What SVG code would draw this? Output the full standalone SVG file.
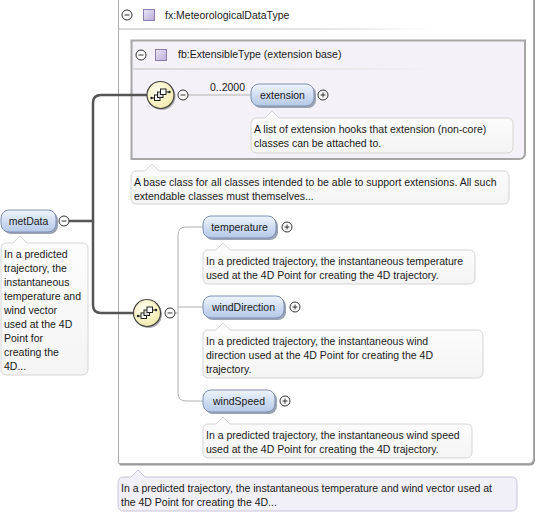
<svg xmlns="http://www.w3.org/2000/svg" width="536" height="514" viewBox="0 0 536 514">
<style>
text{font-family:"Liberation Sans",Arial,sans-serif;font-size:10.5px;fill:#1a1a1a}
.ann{fill:url(#annG);stroke:#d4d4d4;stroke-width:1}
.annB{fill:#f1eff7;stroke:#c9c3d9;stroke-width:1}
.node{fill:url(#nodeG);stroke:#7f90b0;stroke-width:1}
.nsh{fill:#9aa3b3}
.thick{fill:none;stroke:#555;stroke-width:2.5}
.thin{fill:none;stroke:#b0b0b0;stroke-width:1}
.pm{fill:#fff;stroke:#333;stroke-width:1}
.pml{stroke:#333;stroke-width:1}
.sq{fill:url(#sqG);stroke:#8a7cb0;stroke-width:1}
</style>
<defs>
<linearGradient id="nodeG" x1="0" y1="0" x2="0" y2="1"><stop offset="0" stop-color="#eef4fc"/><stop offset="1" stop-color="#b4c8e8"/></linearGradient>
<linearGradient id="annG" x1="0" y1="0" x2="0" y2="1"><stop offset="0" stop-color="#fdfdfd"/><stop offset="1" stop-color="#f4f4f4"/></linearGradient>
<linearGradient id="sqG" x1="0" y1="0" x2="1" y2="1"><stop offset="0" stop-color="#ece6f6"/><stop offset="1" stop-color="#b9acd8"/></linearGradient>
<linearGradient id="sepG" x1="0" y1="0" x2="1" y2="0"><stop offset="0" stop-color="#d8d8d8"/><stop offset="0.7" stop-color="#e8e8e8"/><stop offset="1" stop-color="#e8e8e8" stop-opacity="0"/></linearGradient>
<radialGradient id="seqG" cx="0.4" cy="0.35" r="0.7"><stop offset="0" stop-color="#fffef0"/><stop offset="1" stop-color="#f2e9a8"/></radialGradient>
<g id="minus"><circle class="pm" cx="0" cy="0" r="5"/><line class="pml" x1="-2.5" y1="0" x2="2.5" y2="0"/></g>
<g id="plus"><circle class="pm" cx="0" cy="0" r="5"/><line class="pml" x1="-2.5" y1="0" x2="2.5" y2="0"/><line class="pml" x1="0" y1="-2.5" x2="0" y2="2.5"/></g>
<g id="seq">
<circle cx="1.5" cy="1.5" r="13.5" fill="#a8a8a8"/>
<circle cx="0" cy="0" r="13.5" fill="url(#seqG)" stroke="#444" stroke-width="1.2"/>
<line x1="-9" y1="3" x2="-5" y2="3" stroke="#222" stroke-width="1"/>
<circle cx="-9" cy="3" r="1.2" fill="#222"/>
<line x1="5" y1="-3" x2="9" y2="-3" stroke="#222" stroke-width="1"/>
<circle cx="9" cy="-3" r="1.2" fill="#222"/>
<rect x="-6" y="0" width="5.5" height="5.5" fill="#fff" stroke="#222" stroke-width="1"/>
<rect x="-3" y="-3" width="5.5" height="5.5" fill="#ddd" stroke="#222" stroke-width="1"/>
<rect x="0" y="-6" width="5.5" height="5.5" fill="#fff" stroke="#222" stroke-width="1"/>
</g>
</defs>

<g id="type-MeteorologicalDataType">
<path d="M119.5,-2 H535 V460 Q535,465.5 529.5,465.5 H119.5 Z" fill="#9a9a9a"/>
<path d="M118.5,-2 H533.5 V458 Q533.5,463.5 528,463.5 H118.5 Z" fill="#fff" stroke="#ababab" stroke-width="1"/>
<use href="#minus" x="127" y="15"/>
<rect class="sq" x="143.5" y="9.5" width="11" height="11"/>
<text x="165" y="19">fx:MeteorologicalDataType</text>
<rect x="119" y="28" width="315" height="2" fill="url(#sepG)"/>
</g>

<g id="type-ExtensibleType">
<path d="M131.5,40.5 H525 V153 Q525,159 519,159 H131.5 Z" fill="#f4f2f8" stroke="#a6a6a6" stroke-width="2"/>
<use href="#minus" x="141" y="55"/>
<rect class="sq" x="155.5" y="49.5" width="11" height="11"/>
<text x="178" y="58">fb:ExtensibleType (extension base)</text>
<rect x="133" y="68" width="300" height="2" fill="url(#sepG)"/>
</g>

<g id="connectors">
<path class="thick" d="M69,221 H93 M93,103 V305 M93,103 Q93,95 101,95 H147 M93,305 Q93,313 101,313 H133"/>
<path class="thin" d="M188,95 H251"/>
<path class="thin" d="M175,313 H178 M178,235 V393 M178,235 Q178,227 186,227 H203 M178,307 H203 M178,393 Q178,401 186,401 H203"/>
<text x="210" y="91">0..2000</text>
</g>

<g id="seq1">
<use href="#seq" x="160.5" y="95"/>
<use href="#minus" x="183" y="95"/>
</g>
<g id="seq2">
<use href="#seq" x="147" y="313"/>
<use href="#minus" x="170" y="313"/>
</g>

<g id="metData">
<rect class="nsh" x="3" y="212" width="55" height="22" rx="8"/>
<rect class="node" x="1" y="210" width="55" height="22" rx="8"/>
<text x="28.5" y="225" text-anchor="middle">metData</text>
<use href="#minus" x="64" y="221"/>
</g>
<g id="metData-doc">
<path class="ann" d="M7,243 H13 L20,236 L27,243 H82 Q88,243 88,249 V369 Q88,375 82,375 H7 Q1,375 1,369 V249 Q1,243 7,243 Z"/>
<text x="4" y="258">In a predicted</text>
<text x="4" y="272">trajectory, the</text>
<text x="4" y="286">instantaneous</text>
<text x="4" y="300">temperature and</text>
<text x="4" y="314">wind vector</text>
<text x="4" y="328">used at the 4D</text>
<text x="4" y="342">Point for</text>
<text x="4" y="356">creating the</text>
<text x="4" y="370">4D...</text>
</g>

<g id="extension">
<rect class="nsh" x="253" y="86" width="63" height="22" rx="8"/>
<rect class="node" x="251" y="84" width="63" height="22" rx="8"/>
<text x="282.5" y="99" text-anchor="middle">extension</text>
<use href="#plus" x="323" y="95"/>
</g>
<g id="extension-doc">
<path class="ann" d="M257,118 H265 L272,111 L279,118 H507 Q513,118 513,124 V147 Q513,153 507,153 H257 Q251,153 251,147 V124 Q251,118 257,118 Z"/>
<text x="254" y="133">A list of extension hooks that extension (non-core)</text>
<text x="254" y="147">classes can be attached to.</text>
</g>

<g id="ExtensibleType-doc">
<path class="ann" d="M137,171 H145 L152,164 L159,171 H503 Q509,171 509,177 V198 Q509,204 503,204 H137 Q131,204 131,198 V177 Q131,171 137,171 Z"/>
<text x="134" y="186">A base class for all classes intended to be able to support extensions. All such</text>
<text x="134" y="200">extendable classes must themselves...</text>
</g>

<g id="temperature">
<rect class="nsh" x="205" y="218" width="73" height="22" rx="8"/>
<rect class="node" x="203" y="216" width="73" height="22" rx="8"/>
<text x="239.5" y="231" text-anchor="middle">temperature</text>
<use href="#plus" x="287" y="227"/>
</g>
<g id="temperature-doc">
<path class="ann" d="M209,250 H216 L223,243 L230,250 H469 Q475,250 475,256 V278 Q475,284 469,284 H209 Q203,284 203,278 V256 Q203,250 209,250 Z"/>
<text x="206" y="265">In a predicted trajectory, the instantaneous temperature</text>
<text x="206" y="279">used at the 4D Point for creating the 4D trajectory.</text>
</g>

<g id="windDirection">
<rect class="nsh" x="205" y="298" width="81" height="22" rx="8"/>
<rect class="node" x="203" y="296" width="81" height="22" rx="8"/>
<text x="243.5" y="311" text-anchor="middle">windDirection</text>
<use href="#plus" x="295" y="307"/>
</g>
<g id="windDirection-doc">
<path class="ann" d="M209,330 H216 L223,323 L230,330 H477 Q483,330 483,336 V372 Q483,378 477,378 H209 Q203,378 203,372 V336 Q203,330 209,330 Z"/>
<text x="206" y="345">In a predicted trajectory, the instantaneous wind</text>
<text x="206" y="359">direction used at the 4D Point for creating the 4D</text>
<text x="206" y="373">trajectory.</text>
</g>

<g id="windSpeed">
<rect class="nsh" x="205" y="392" width="72" height="22" rx="8"/>
<rect class="node" x="203" y="390" width="72" height="22" rx="8"/>
<text x="239" y="405" text-anchor="middle">windSpeed</text>
<use href="#plus" x="285" y="401"/>
</g>
<g id="windSpeed-doc">
<path class="ann" d="M209,424 H216 L223,417 L230,424 H466 Q472,424 472,430 V452 Q472,458 466,458 H209 Q203,458 203,452 V430 Q203,424 209,424 Z"/>
<text x="206" y="439">In a predicted trajectory, the instantaneous wind speed</text>
<text x="206" y="453">used at the 4D Point for creating the 4D trajectory.</text>
</g>

<g id="MeteorologicalDataType-doc">
<path class="annB" d="M124,477 H131 L138,470 L145,477 H511 Q517,477 517,483 V505 Q517,511 511,511 H124 Q118,511 118,505 V483 Q118,477 124,477 Z"/>
<text x="121" y="492">In a predicted trajectory, the instantaneous temperature and wind vector used at</text>
<text x="121" y="506">the 4D Point for creating the 4D...</text>
</g>
</svg>
